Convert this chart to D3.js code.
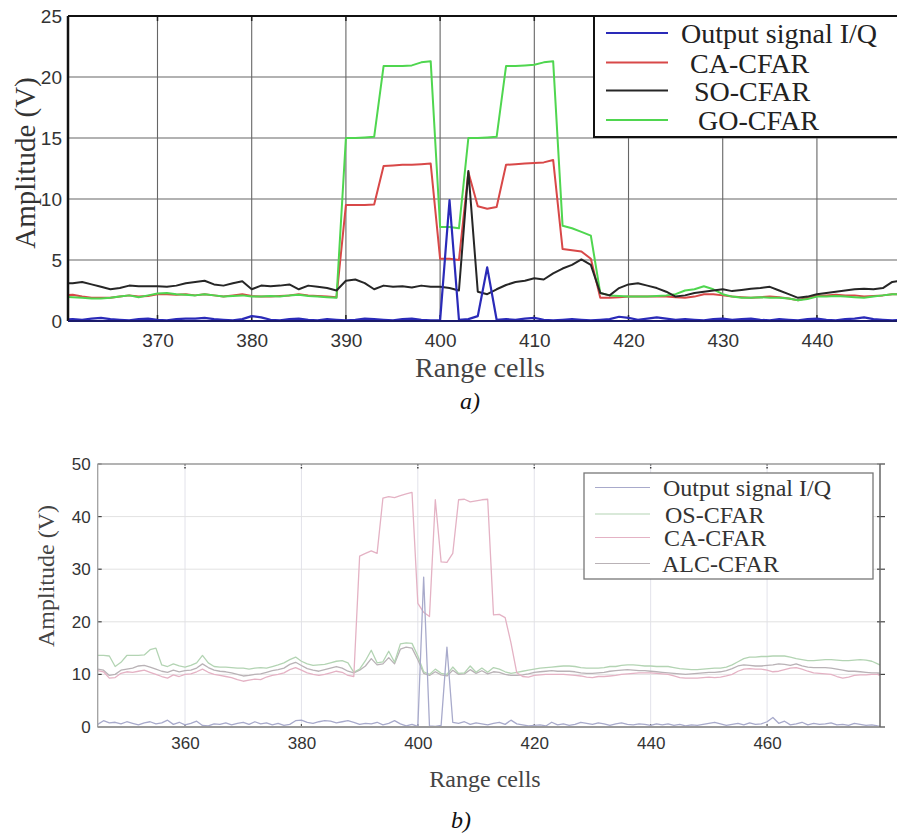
<!DOCTYPE html>
<html><head><meta charset="utf-8">
<script src="https://cdn.jsdelivr.net/npm/d3@7"></script>
<style>html,body{margin:0;padding:0;background:#fff;} svg{display:block}</style>
</head><body>
<script>
// ---------- Chart a) data ----------
const cellsA = d3.range(360, 450);
const xTicksA = [370, 380, 390, 400, 410, 420, 430, 440];
const yTicksA = [0, 5, 10, 15, 20, 25];
const seriesNamesA = ["Output signal I/Q", "CA-CFAR", "SO-CFAR", "GO-CFAR"];
const iqA = [0.1,0.15,0.1,0.2,0.25,0.15,0.1,0.05,0.15,0.2,0.1,0.05,0.15,0.2,0.2,0.25,0.15,0.1,0.05,0.15,
  0.4,0.3,0.1,0.05,0.15,0.2,0.1,0.05,0.15,0.1,0.05,0.1,0.2,0.15,0.1,0.05,0.15,0.2,0.1,0.05,
  0.05,9.9,0.1,0.15,0.4,4.4,0.1,0.15,0.1,0.2,0.25,0.1,0.05,0.1,0.15,0.1,0.05,0.1,0.15,0.35,
  0.25,0.1,0.2,0.3,0.2,0.1,0.15,0.1,0.05,0.15,0.2,0.1,0.15,0.2,0.1,0.05,0.15,0.1,0.05,0.15,
  0.2,0.1,0.05,0.15,0.2,0.3,0.15,0.1,0.05,0.1];
const caA = [2.1,2.15,2.0,1.9,1.9,1.9,2.0,2.1,2.0,2.05,2.2,2.2,2.15,2.2,2.1,2.2,2.1,2.0,2.1,2.2,
  2.05,2.0,2.0,2.05,2.1,2.2,2.1,2.05,2.0,1.95,9.5,9.5,9.5,9.55,12.7,12.75,12.8,12.8,12.85,12.9,
  5.1,5.1,5.0,12.2,9.4,9.2,9.35,12.8,12.85,12.9,12.95,13.0,13.2,5.9,5.8,5.7,5.1,1.9,1.9,1.95,
  2.0,2.0,2.0,2.0,2.0,1.95,1.9,2.0,2.2,2.2,2.1,2.0,1.95,1.9,1.95,2.0,1.95,1.85,1.7,1.9,
  2.05,2.1,2.15,2.1,2.1,2.0,2.05,2.1,2.2,2.2];
const soA = [3.1,3.1,3.2,3.0,2.8,2.6,2.7,2.9,2.85,2.85,2.85,2.8,2.9,3.1,3.2,3.3,3.0,2.9,3.1,3.25,
  2.6,2.9,2.85,2.9,3.0,2.6,2.9,2.8,2.7,2.5,3.3,3.4,3.1,2.6,2.9,2.8,2.85,2.75,2.9,2.8,
  2.8,2.7,2.5,12.3,2.4,2.2,2.6,2.95,3.2,3.3,3.5,3.4,3.9,4.3,4.6,5.05,4.6,2.3,2.1,2.7,
  3.0,3.1,2.9,2.7,2.4,2.0,2.1,2.3,2.4,2.5,2.6,2.45,2.55,2.65,2.7,2.8,2.5,2.2,1.9,2.0,
  2.2,2.3,2.4,2.5,2.6,2.65,2.6,2.7,3.2,3.3];
const goA = [2.0,1.95,1.9,1.85,1.85,1.9,2.0,2.1,1.95,2.1,2.25,2.3,2.2,2.15,2.1,2.2,2.1,2.0,2.05,2.1,
  2.0,2.0,2.05,2.0,2.1,2.15,2.05,2.0,1.95,1.9,15.0,15.0,15.05,15.1,20.9,20.9,20.9,20.95,21.2,21.3,
  7.7,7.7,7.6,15.0,15.0,15.05,15.1,20.9,20.9,20.95,21.0,21.2,21.3,7.8,7.6,7.3,7.0,2.3,2.1,2.05,
  2.0,2.0,2.0,2.05,2.1,2.2,2.5,2.6,2.85,2.6,2.2,2.0,1.9,1.9,1.95,1.9,1.9,1.85,1.7,1.8,
  2.0,2.0,2.05,2.0,1.95,1.9,2.0,2.1,2.2,2.2];

// ---------- Chart b) data ----------
const cellsB = d3.range(345, 481);
const xTicksB = [360, 380, 400, 420, 440, 460];
const yTicksB = [0, 10, 20, 30, 40, 50];
const seriesNamesB = ["Output signal I/Q", "OS-CFAR", "CA-CFAR", "ALC-CFAR"];
const iqB = [0.5,1.2,0.8,0.9,0.6,1.0,0.7,0.4,0.8,1.0,0.6,0.8,1.3,0.5,0.9,0.4,0.7,1.1,0.3,0.2,
  0.6,0.5,0.8,0.4,0.7,0.9,0.5,1.0,0.6,0.8,0.4,0.7,0.3,0.5,1.2,1.3,0.9,0.7,1.0,1.2,
  1.1,0.8,1.0,1.2,0.9,0.5,0.7,0.6,0.9,0.4,0.7,1.2,0.6,0.2,0.5,0.1,28.5,0.2,0.1,0.3,
  15.2,0.9,0.7,1.0,0.5,0.8,0.6,0.4,0.7,0.9,0.5,1.3,0.6,0.4,0.2,0.3,0.4,0.2,0.9,0.4,
  0.6,0.3,0.5,0.9,0.7,0.5,0.8,0.6,0.3,0.6,0.8,0.5,0.4,0.6,0.5,0.3,0.6,0.4,0.6,0.3,
  0.5,0.2,0.4,0.3,0.5,0.7,0.9,0.6,0.3,0.5,0.7,0.4,0.8,0.5,0.6,1.0,1.8,0.7,1.1,0.4,
  0.6,0.9,0.4,0.7,0.5,0.6,0.8,0.4,0.5,0.3,0.7,0.5,0.3,0.4,0.2,0.1];
const osB = [13.6,13.6,13.5,11.5,12.3,13.6,13.6,13.6,13.7,14.7,15.0,11.8,11.5,12.0,11.6,11.4,11.7,12.2,13.6,12.2,
  11.5,11.4,11.4,11.3,11.2,11.2,11.0,11.2,11.3,11.2,11.5,11.8,12.2,12.8,13.3,12.5,12.0,11.7,11.8,11.9,
  12.2,12.5,12.6,12.2,10.4,11.0,12.6,14.6,12.2,12.4,14.4,12.3,15.8,16.0,15.9,13.5,10.5,10.0,11.0,10.2,
  10.0,11.4,10.2,10.3,11.6,10.4,11.2,10.4,11.3,11.0,10.5,10.2,10.4,10.6,10.8,11.0,11.2,11.3,11.4,11.5,
  11.6,11.6,11.5,11.3,11.2,11.2,11.2,11.3,11.5,11.5,11.7,11.8,11.8,11.7,11.6,11.6,11.5,11.5,11.5,11.3,
  11.1,11.0,10.9,10.9,11.0,11.1,11.2,11.2,11.4,11.8,12.4,13.0,13.3,13.3,13.4,13.4,13.5,13.5,13.5,13.3,
  13.0,12.8,12.6,12.6,12.7,12.8,12.8,12.7,12.6,12.6,12.7,12.8,12.7,12.5,12.0,11.5];
const caB = [10.7,10.5,9.3,9.4,10.2,10.5,10.4,10.6,10.8,10.4,10.0,9.6,9.3,9.9,9.6,10.0,10.1,10.5,11.0,10.4,
  10.0,9.8,9.6,9.4,9.0,8.7,8.9,9.1,9.0,9.5,9.8,10.0,10.3,10.9,11.3,10.8,10.3,10.0,9.8,10.0,
  10.3,10.6,10.4,9.8,9.6,32.5,33.0,33.5,33.0,43.5,43.8,43.6,44.0,44.3,44.6,23.5,21.8,21.0,43.2,31.4,
  31.3,33.0,43.2,43.3,42.8,43.0,43.2,43.3,21.3,21.4,20.8,16.0,10.3,9.6,9.5,9.8,9.9,10.0,10.0,10.0,
  10.0,9.9,9.8,9.7,9.5,9.4,9.6,9.6,9.7,9.8,10.0,10.1,10.2,10.3,10.3,10.3,10.2,10.1,10.0,9.7,
  9.4,9.3,9.3,9.3,9.4,9.5,9.4,9.5,9.7,10.0,10.6,11.0,11.1,11.0,11.0,10.8,10.5,10.6,10.9,11.2,
  11.3,11.0,10.6,10.3,10.2,10.1,10.0,9.6,9.3,9.5,9.8,9.9,9.9,10.0,10.0,9.5];
const alcB = [11.0,10.8,9.8,10.0,10.8,11.0,11.2,11.6,11.7,11.4,11.0,10.6,10.4,10.8,10.5,10.7,10.8,11.2,12.0,11.3,
  10.8,10.6,10.5,10.3,10.0,9.7,9.8,10.0,10.1,10.4,10.7,10.9,11.2,11.9,12.3,11.7,11.1,10.8,10.6,10.9,
  11.2,11.5,11.2,10.6,10.3,10.8,11.6,13.0,11.8,12.0,13.2,12.0,14.8,15.2,15.0,12.8,10.2,9.8,10.5,9.9,
  9.7,10.8,10.0,10.1,10.9,10.2,10.7,10.1,10.5,10.4,10.0,9.8,9.8,9.9,10.1,10.4,10.5,10.6,10.7,10.6,
  10.6,10.6,10.5,10.3,10.2,10.2,10.3,10.4,10.6,10.7,10.8,10.9,10.8,10.7,10.7,10.6,10.5,10.4,10.3,10.2,
  10.1,10.0,10.1,10.2,10.3,10.4,10.4,10.5,10.7,11.1,11.6,11.8,11.7,11.6,11.6,11.7,11.8,12.0,11.9,11.7,
  12.0,11.6,11.4,11.3,11.3,11.3,11.2,11.0,10.8,10.6,10.6,10.5,10.4,10.3,10.3,10.2];

// ---------- Drawing ----------
const W = 897, H = 834;
const svg = d3.select("body").append("svg").attr("width", W).attr("height", H)
  .style("background", "#fff");
const serif = "'Liberation Serif','Times New Roman',serif";
const sans = "'Liberation Sans',Arial,sans-serif";

// ===== Chart a =====
const boxA = {l: 68, r: 897, t: 16, b: 321};
const xA = d3.scaleLinear().domain([360.5, 448.5]).range([boxA.l, boxA.r]);
const yA = d3.scaleLinear().domain([0, 25]).range([boxA.b, boxA.t]);
const gA = svg.append("g");
svg.append("clipPath").attr("id", "clipA").append("rect")
  .attr("x", boxA.l).attr("y", boxA.t - 2).attr("width", boxA.r - boxA.l).attr("height", boxA.b - boxA.t + 4);

gA.append("g").selectAll("line").data(xTicksA).join("line")
  .attr("x1", d => xA(d)).attr("x2", d => xA(d)).attr("y1", boxA.t).attr("y2", boxA.b)
  .attr("stroke", "#666").attr("stroke-width", 1.1);
gA.append("g").selectAll("line").data(yTicksA.filter(d => d > 0 && d < 25)).join("line")
  .attr("x1", boxA.l).attr("x2", boxA.r).attr("y1", d => yA(d)).attr("y2", d => yA(d))
  .attr("stroke", "#666").attr("stroke-width", 1.1);

const axA = gA.append("g").attr("transform", `translate(0,${boxA.b})`)
  .call(d3.axisBottom(xA).tickValues(xTicksA).tickSize(0).tickPadding(13));
const ayA = gA.append("g").attr("transform", `translate(${boxA.l},0)`)
  .call(d3.axisLeft(yA).tickValues(yTicksA).tickSize(0).tickPadding(6));
[axA, ayA].forEach(a => {
  a.select(".domain").remove();
  a.selectAll("text").attr("font-family", sans).attr("font-size", 19).attr("fill", "#333");
});
gA.append("g").selectAll("line").data(xTicksA).join("line")
  .attr("x1", d => xA(d)).attr("x2", d => xA(d)).attr("y1", boxA.t).attr("y2", boxA.t + 5)
  .attr("stroke", "#222").attr("stroke-width", 1.5);
gA.append("g").selectAll("line").data(xTicksA).join("line")
  .attr("x1", d => xA(d)).attr("x2", d => xA(d)).attr("y1", boxA.b).attr("y2", boxA.b - 6)
  .attr("stroke", "#222").attr("stroke-width", 1.5);

const colorsA = ["#2a2ab8", "#d84848", "#262626", "#4fd64f"];
const dataA = [iqA, caA, soA, goA];
const lineA = d3.line().x((d, i) => xA(cellsA[i])).y(d => yA(d));
const drawOrderA = [1, 3, 2, 0];
const linesA = gA.append("g").attr("clip-path", "url(#clipA)");
drawOrderA.forEach(k => {
  linesA.append("path").datum(dataA[k]).attr("d", lineA)
    .attr("fill", "none").attr("stroke", colorsA[k]).attr("stroke-width", k === 0 ? 2.2 : 2)
    .attr("stroke-linejoin", "round");
});
gA.append("line").attr("x1", boxA.l).attr("x2", boxA.r).attr("y1", boxA.t).attr("y2", boxA.t)
  .attr("stroke", "#111").attr("stroke-width", 2);
gA.append("line").attr("x1", boxA.l).attr("x2", boxA.l).attr("y1", boxA.t).attr("y2", boxA.b)
  .attr("stroke", "#111").attr("stroke-width", 2.5);
gA.append("line").attr("x1", boxA.l).attr("x2", boxA.r).attr("y1", boxA.b).attr("y2", boxA.b)
  .attr("stroke", "#1a1a6a").attr("stroke-width", 2.2);

const legA = gA.append("g");
legA.append("rect").attr("x", 594).attr("y", boxA.t).attr("width", 330).attr("height", 121)
  .attr("fill", "#fff").attr("stroke", "#111").attr("stroke-width", 2);
const legRowsA = [33, 62.5, 90.5, 120];
const legTxtXA = [681, 690, 694, 698];
seriesNamesA.forEach((name, i) => {
  legA.append("line").attr("x1", 606).attr("x2", 668).attr("y1", legRowsA[i]).attr("y2", legRowsA[i])
    .attr("stroke", colorsA[i]).attr("stroke-width", 2);
  legA.append("text").attr("x", legTxtXA[i]).attr("y", legRowsA[i] + 10)
    .attr("font-family", serif).attr("font-size", 28).attr("fill", "#222").text(name);
});

gA.append("text").attr("transform", "translate(35,163) rotate(-90)").attr("text-anchor", "middle")
  .attr("font-family", serif).attr("font-size", 29).attr("fill", "#333").text("Amplitude (V)");
gA.append("text").attr("x", 480).attr("y", 377).attr("text-anchor", "middle")
  .attr("font-family", serif).attr("font-size", 28).attr("fill", "#444").text("Range cells");
gA.append("text").attr("x", 470).attr("y", 409).attr("text-anchor", "middle")
  .attr("font-family", serif).attr("font-style", "italic").attr("font-size", 24).attr("fill", "#111").text("a)");

// ===== Chart b =====
const boxB = {l: 97.7, r: 880, t: 464, b: 727};
const xB = d3.scaleLinear().domain([345, 479.4]).range([boxB.l, boxB.r]);
const yB = d3.scaleLinear().domain([0, 50]).range([boxB.b, boxB.t]);
const gB = svg.append("g");
svg.append("clipPath").attr("id", "clipB").append("rect")
  .attr("x", boxB.l).attr("y", boxB.t).attr("width", boxB.r - boxB.l).attr("height", boxB.b - boxB.t);

gB.append("g").selectAll("line").data(xTicksB).join("line")
  .attr("x1", d => xB(d)).attr("x2", d => xB(d)).attr("y1", boxB.t).attr("y2", boxB.b)
  .attr("stroke", "#e2e2ea").attr("stroke-width", 1);
gB.append("g").selectAll("line").data(yTicksB.filter(d => d > 0 && d < 50)).join("line")
  .attr("x1", boxB.l).attr("x2", boxB.r).attr("y1", d => yB(d)).attr("y2", d => yB(d))
  .attr("stroke", "#e2e2e2").attr("stroke-width", 1);

const axB = gB.append("g").attr("transform", `translate(0,${boxB.b})`)
  .call(d3.axisBottom(xB).tickValues(xTicksB).tickSize(0).tickPadding(10));
const ayB = gB.append("g").attr("transform", `translate(${boxB.l},0)`)
  .call(d3.axisLeft(yB).tickValues(yTicksB).tickSize(0).tickPadding(7));
[axB, ayB].forEach(a => {
  a.select(".domain").remove();
  a.selectAll("text").attr("font-family", sans).attr("font-size", 17).attr("fill", "#333");
});

gB.append("g").selectAll("line").data(xTicksB).join("line")
  .attr("x1", d => xB(d)).attr("x2", d => xB(d)).attr("y1", boxB.t).attr("y2", boxB.t + 5)
  .attr("stroke", "#333").attr("stroke-width", 1.4).attr("stroke-dasharray", "1.5,1.5");
gB.append("g").selectAll("line").data(xTicksB).join("line")
  .attr("x1", d => xB(d)).attr("x2", d => xB(d)).attr("y1", boxB.b).attr("y2", boxB.b - 3)
  .attr("stroke", "#555").attr("stroke-width", 1.2);
gB.append("g").selectAll("line").data(yTicksB).join("line")
  .attr("x1", boxB.l).attr("x2", boxB.l + 4).attr("y1", d => yB(d)).attr("y2", d => yB(d))
  .attr("stroke", "#444").attr("stroke-width", 1.2);
gB.append("g").selectAll("line").data(yTicksB).join("line")
  .attr("x1", boxB.r - 3).attr("x2", boxB.r + 5).attr("y1", d => yB(d)).attr("y2", d => yB(d))
  .attr("stroke", "#444").attr("stroke-width", 1.2);

const colorsB = ["#a8aacb", "#b3d4b3", "#e4b2c4", "#b9b2b6"];
const dataB = [iqB, osB, caB, alcB];
const lineB = d3.line().x((d, i) => xB(cellsB[i])).y(d => yB(d));
const linesB = gB.append("g").attr("clip-path", "url(#clipB)");
[3, 1, 2, 0].forEach(k => {
  linesB.append("path").datum(dataB[k]).attr("d", lineB)
    .attr("fill", "none").attr("stroke", colorsB[k]).attr("stroke-width", 1.3)
    .attr("stroke-linejoin", "round");
});

gB.append("line").attr("x1", boxB.l).attr("x2", boxB.r).attr("y1", boxB.t).attr("y2", boxB.t)
  .attr("stroke", "#9a9a9a").attr("stroke-width", 1.5);
gB.append("line").attr("x1", boxB.l).attr("x2", boxB.l).attr("y1", boxB.t).attr("y2", boxB.b)
  .attr("stroke", "#a0a0a0").attr("stroke-width", 1.3);
gB.append("line").attr("x1", boxB.l).attr("x2", boxB.r).attr("y1", boxB.b).attr("y2", boxB.b)
  .attr("stroke", "#9a9a9a").attr("stroke-width", 2);
gB.append("line").attr("x1", boxB.r).attr("x2", boxB.r).attr("y1", boxB.t).attr("y2", boxB.b)
  .attr("stroke", "#666").attr("stroke-width", 1.5);

const legB = gB.append("g");
legB.append("rect").attr("x", 584).attr("y", 473).attr("width", 289).attr("height", 106)
  .attr("fill", "#fff").attr("stroke", "#777").attr("stroke-width", 1.3);
const legRowsB = [487.5, 514, 537.5, 563.5];
const legTxtXB = [663, 665, 664, 662];
seriesNamesB.forEach((name, i) => {
  legB.append("line").attr("x1", 595).attr("x2", 650).attr("y1", legRowsB[i]).attr("y2", legRowsB[i])
    .attr("stroke", colorsB[i]).attr("stroke-width", 1.2);
  legB.append("text").attr("x", legTxtXB[i]).attr("y", legRowsB[i] + 8.5)
    .attr("font-family", serif).attr("font-size", 24).attr("fill", "#333").text(name);
});

gB.append("text").attr("transform", "translate(54,576) rotate(-90)").attr("text-anchor", "middle")
  .attr("font-family", serif).attr("font-size", 24).attr("fill", "#444").text("Amplitude (V)");
gB.append("text").attr("x", 485).attr("y", 787).attr("text-anchor", "middle")
  .attr("font-family", serif).attr("font-size", 24).attr("fill", "#444").text("Range cells");
gB.append("text").attr("x", 461).attr("y", 828).attr("text-anchor", "middle")
  .attr("font-family", serif).attr("font-style", "italic").attr("font-size", 24).attr("fill", "#111").text("b)");
</script>
</body></html>
